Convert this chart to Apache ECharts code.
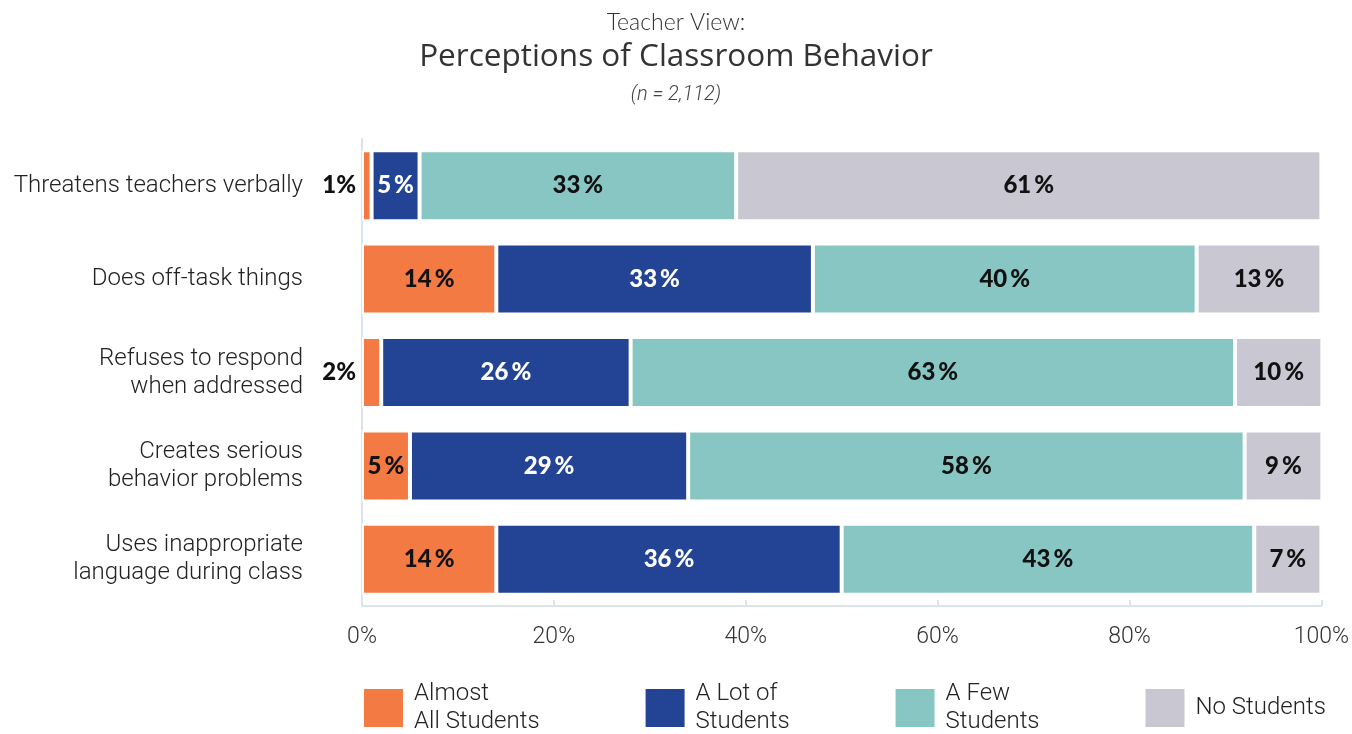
<!DOCTYPE html>
<html>
<head>
<meta charset="utf-8">
<script src="https://cdn.jsdelivr.net/npm/echarts@6/dist/echarts.min.js"></script>
<style>
  html, body { margin: 0; padding: 0; background: #fff; }
  #chart { width: 1352px; height: 734px; }
</style>
</head>
<body>
<div id="chart"></div>
<script>
// behaviours, top to bottom
const behaviors = [
  'Threatens teachers verbally',
  'Does off-task things',
  'Refuses to respond\nwhen addressed',
  'Creates serious\nbehavior problems',
  'Uses inappropriate\nlanguage during class'
]

const groups = ['Almost All Students', 'A Lot of Students', 'A Few Students', 'No Students']
const legendLabels = ['Almost\nAll Students', 'A Lot of\nStudents', 'A Few\nStudents', 'No Students']

// percent of teachers per behaviour
const almostAll = [1, 14, 2, 5, 14]
const aLotOf = [5, 33, 26, 29, 36]
const aFew = [33, 40, 63, 58, 43]
const noStudents = [61, 13, 10, 9, 7]

const xTicks = [0, 20, 40, 60, 80, 100]

const colors = ['#F47A43', '#234394', '#88C6C4', '#C9C8D2']
const labelColors = ['#111', '#fff', '#111', '#111']
const values = [almostAll, aLotOf, aFew, noStudents]

const chart = echarts.init(document.getElementById('chart'))

const series = groups.map((name, i) => ({
  name: name,
  type: 'bar',
  stack: 'total',
  barWidth: 71,
  itemStyle: { color: colors[i], borderColor: '#fff', borderWidth: 2 },
  label: {
    show: true,
    position: 'inside',
    formatter: '{c}\u2009%',
    color: labelColors[i],
    fontFamily: 'Lato',
    fontWeight: 900,
    fontSize: 24
  },
  // tiny values get their label outside, left of the axis
  data: values[i].map(v => v < 3
    ? { value: v, label: { position: 'left', distance: 6, color: '#111', formatter: '{c}%' } }
    : v)
}))

chart.setOption({
  animation: false,
  title: [
    {
      text: 'Teacher View:',
      left: 'center',
      top: 6,
      textStyle: { fontFamily: 'Lato', fontWeight: 300, fontSize: 23, color: '#333' }
    },
    {
      text: 'Perceptions of Classroom Behavior',
      left: 'center',
      top: 36,
      textStyle: { fontFamily: 'Open Sans', fontWeight: 'normal', fontSize: 31.5, color: '#333' }
    },
    {
      text: '(n = 2,112)',
      left: 'center',
      top: 80,
      textStyle: { fontFamily: 'Roboto', fontStyle: 'italic', fontWeight: 300, fontSize: 20, color: '#444' }
    }
  ],
  legend: {
    data: groups,
    left: 362,
    top: 680,
    padding: 0,
    itemWidth: 41,
    itemHeight: 40,
    itemGap: 104,
    icon: 'rect',
    formatter: name => legendLabels[groups.indexOf(name)],
    textStyle: { fontFamily: 'Roboto', fontWeight: 300, fontSize: 24, lineHeight: 28, color: '#222', padding: [0, 0, 0, 5] }
  },
  grid: { left: 362, right: 29, top: 139, height: 467 },
  xAxis: {
    type: 'value',
    min: 0,
    max: 100,
    interval: 20,
    axisLine: { show: true, lineStyle: { color: '#DCE3F0', width: 2 } },
    axisTick: { show: true, inside: true, length: 6, lineStyle: { color: '#DCE3F0', width: 2 } },
    splitLine: { show: false },
    axisLabel: {
      margin: 20,
      fontFamily: 'Roboto',
      fontWeight: 300,
      fontSize: 23,
      color: '#333',
      formatter: v => xTicks.includes(v) ? v + '%' : ''
    }
  },
  yAxis: {
    type: 'category',
    inverse: true,
    data: behaviors,
    axisLine: { show: true, lineStyle: { color: '#DCE3F0', width: 2 } },
    axisTick: { show: false },
    axisLabel: {
      margin: 59,
      fontFamily: 'Roboto',
      fontWeight: 300,
      fontSize: 24,
      lineHeight: 28,
      padding: [0, 0, 7, 0],
      color: '#222',
      align: 'right'
    }
  },
  series: series
})

window.addEventListener('resize', () => {
  chart.resize()
})
</script>
</body>
</html>
